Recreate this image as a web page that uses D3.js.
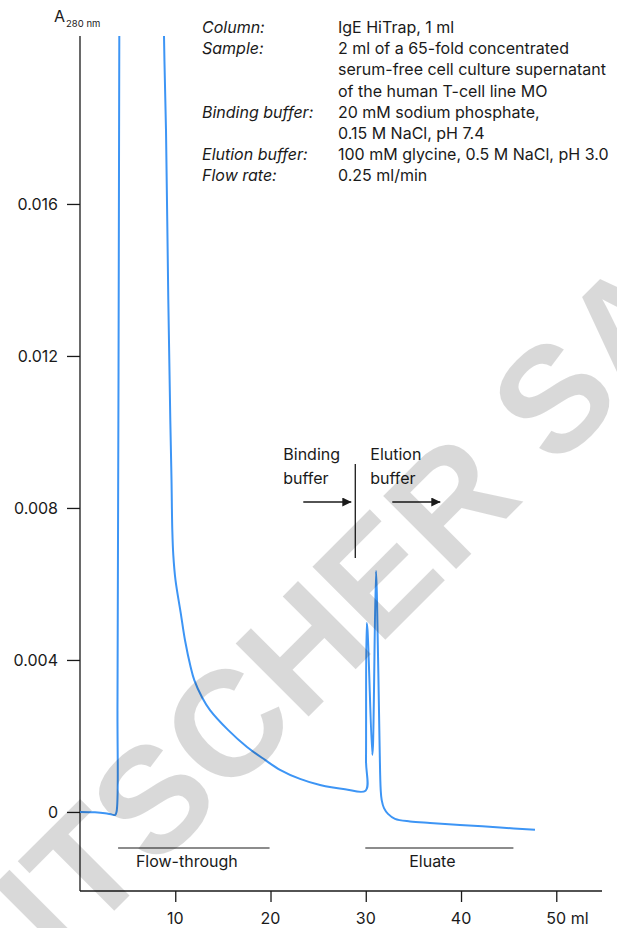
<!DOCTYPE html>
<html>
<head>
<meta charset="utf-8">
<script src="https://cdn.jsdelivr.net/npm/d3@7"></script>
<style>
  html, body { margin: 0; padding: 0; background: #fff; }
  svg { display: block; font-family: Inter, "Noto Sans", "DejaVu Sans", sans-serif; }
</style>
</head>
<body>
<svg id="chart" width="617" height="928"></svg>
<script>
// Elution volume (ml) of the absorbance trace
const volumeMl = [
  0, 1.575, 2.625, 3.359, 3.674, 3.832, 3.937, 4.126, 4.157,
  8.766, 8.818, 9.028, 9.270, 9.480, 9.606, 9.690, 9.795, 10.026, 10.572, 11.023,
  11.621, 11.999, 12.808, 13.648, 15.537, 17.532, 19.422, 20.996, 23.096, 25.196,
  27.820, 29.972,
  30.025, 30.098, 30.182, 30.686, 30.759, 31.074, 31.179, 31.442, 31.568, 31.673,
  31.914, 32.334, 33.069, 34.644, 36.744, 39.893, 44.092, 47.766
];
// A280 absorbance at each volume
const absorbance = [
  0, -0.00001, -0.000035, -0.00007, -0.00008, 0, 0.00295, 0.02042, 0.0227,
  0.0227, 0.02042, 0.01795, 0.01347, 0.01031, 0.00874, 0.00742, 0.00676, 0.00610, 0.00524, 0.00452,
  0.00381, 0.00347, 0.00302, 0.00268, 0.00216, 0.00171, 0.00137, 0.00111, 0.00087, 0.00071,
  0.00060, 0.00056,
  0.00137, 0.00497, 0.00479, 0.00150, 0.00176, 0.00634, 0.00558, 0.00189, 0.00058, 0.00031,
  0.00010, -0.00005, -0.00018, -0.00025, -0.00029, -0.00034, -0.00041, -0.00047
];

const yTicks = [0, 0.004, 0.008, 0.012, 0.016];
const yTickLabels = ["0", "0.004", "0.008", "0.012", "0.016"];
const xTicks = [10, 20, 30, 40, 50];
const xTickLabels = ["10", "20", "30", "40", "50 ml"];

// Run conditions block
const conditionKeys = ["Column:", "Sample:", "", "", "Binding buffer:", "", "Elution buffer:", "Flow rate:"];
const conditionValues = [
  "IgE HiTrap, 1 ml",
  "2 ml of a 65-fold concentrated",
  "serum-free cell culture supernatant",
  "of the human T-cell line MO",
  "20 mM sodium phosphate,",
  "0.15 M NaCl, pH 7.4",
  "100 mM glycine, 0.5 M NaCl, pH 3.0",
  "0.25 ml/min"
];

// Fraction bars under the trace: [start ml, end ml, label]
const fractionStart = [4.0, 29.95];
const fractionEnd = [19.9, 45.5];
const fractionLabels = ["Flow-through", "Eluate"];

const bufferChangeMl = 28.9;
const bufferLabels = [["Binding", "buffer"], ["Elution", "buffer"]];

const svg = d3.select("#chart");
const ink = "#1a1a1a";
const fs = 16;

const x = d3.scaleLinear().domain([0, 54.8]).range([80, 602]);
const y = d3.scaleLinear().domain([-0.00208, 0.02042]).range([891, 36]);

// ---- axes
const yAxis = d3.axisLeft(y).tickValues(yTicks).tickSize(13).tickFormat((d, i) => yTickLabels[i]);
const gy = svg.append("g").attr("transform", "translate(80,0)").call(yAxis);
gy.select(".domain").attr("d", `M0,${y.range()[0]}V${y.range()[1]}`);
gy.selectAll("line, path").attr("stroke", ink).attr("stroke-width", 1.3);
gy.selectAll("text").attr("font-size", fs).attr("fill", ink).attr("x", -22)
  .attr("font-family", "Inter, sans-serif");

const xAxis = d3.axisBottom(x).tickValues(xTicks).tickSize(11).tickFormat("");
const gx = svg.append("g").attr("transform", "translate(0,891)").call(xAxis);
gx.select(".domain").attr("d", `M${x.range()[0]},0H${x.range()[1]}`);
gx.selectAll("line, path").attr("stroke", ink).attr("stroke-width", 1.3);

// x tick labels: the number is centred on its tick, a unit suffix trails to the right
xTicks.forEach((t, i) => {
  const parts = xTickLabels[i].split(" ");
  const txt = svg.append("text")
    .attr("y", 924).attr("font-size", fs).attr("fill", ink)
    .text(xTickLabels[i]);
  const probe = svg.append("text").attr("font-size", fs).text(parts[0]);
  const w = probe.node().getComputedTextLength();
  probe.remove();
  txt.attr("x", x(t) - w / 2);
});

// axis title
const title = svg.append("text").attr("x", 54).attr("y", 22).attr("fill", ink).attr("font-size", 16);
title.append("tspan").text("A");
title.append("tspan").attr("font-size", 9.5).attr("dy", 5).attr("dx", 1).text("280 nm");

// ---- trace
svg.append("clipPath").attr("id", "plotclip")
  .append("rect").attr("x", 80).attr("y", 36).attr("width", 530).attr("height", 855);

const line = d3.line()
  .x((d, i) => x(volumeMl[i]))
  .y(d => y(d))
  .curve(d3.curveCatmullRom.alpha(0.5));

svg.append("path")
  .datum(absorbance)
  .attr("clip-path", "url(#plotclip)")
  .attr("fill", "none")
  .attr("stroke", "#3d95f5")
  .attr("stroke-width", 2)
  .attr("stroke-linejoin", "round")
  .attr("d", line);

// ---- run conditions
const cond = svg.append("g").attr("font-size", fs).attr("fill", ink);
conditionValues.forEach((v, i) => {
  const yy = 33 + i * 21.2;
  if (conditionKeys[i]) {
    cond.append("text").attr("x", 202).attr("y", yy).attr("font-style", "italic").text(conditionKeys[i]);
  }
  cond.append("text").attr("x", 338).attr("y", yy).text(v);
});

// ---- fraction bars
fractionLabels.forEach((lab, i) => {
  const x0 = x(fractionStart[i]), x1 = x(fractionEnd[i]);
  svg.append("line").attr("x1", x0).attr("x2", x1).attr("y1", 848).attr("y2", 848)
    .attr("stroke", ink).attr("stroke-width", 1.2);
  svg.append("text").attr("x", (x0 + x1) / 2 - 7).attr("y", 867).attr("text-anchor", "middle")
    .attr("font-size", fs).attr("fill", ink).text(lab);
});

// ---- buffer change marker
const bx = x(bufferChangeMl);
svg.append("line").attr("x1", bx).attr("x2", bx).attr("y1", 464).attr("y2", 558)
  .attr("stroke", ink).attr("stroke-width", 1.3);
const defs = svg.append("defs");
defs.append("marker").attr("id", "arrowhead").attr("viewBox", "0 0 10 10")
  .attr("refX", 10).attr("refY", 5).attr("markerWidth", 9).attr("markerHeight", 9)
  .attr("markerUnits", "userSpaceOnUse").attr("orient", "auto")
  .append("path").attr("d", "M0,0L10,5L0,10Z").attr("fill", ink);
[[bx - 52, bx - 4], [bx + 37, bx + 85]].forEach(([a, b]) => {
  svg.append("line").attr("x1", a).attr("x2", b).attr("y1", 502).attr("y2", 502)
    .attr("stroke", ink).attr("stroke-width", 1.3).attr("marker-end", "url(#arrowhead)");
});
bufferLabels.forEach((lines, i) => {
  const tx = i === 0 ? bx - 72 : bx + 15;
  lines.forEach((s, j) => {
    svg.append("text").attr("x", tx).attr("y", 460 + j * 24).attr("font-size", fs)
      .attr("fill", ink).text(s);
  });
});

// ---- watermark
svg.append("text")
  .attr("transform", "translate(60,965) rotate(-45)")
  .attr("font-family", "'Liberation Sans', Arial, sans-serif")
  .attr("font-weight", "bold")
  .attr("font-size", 150)
  .attr("fill", "#000")
  .attr("fill-opacity", 0.15)
  .text("ITSCHER SAS");
</script>
</body>
</html>
